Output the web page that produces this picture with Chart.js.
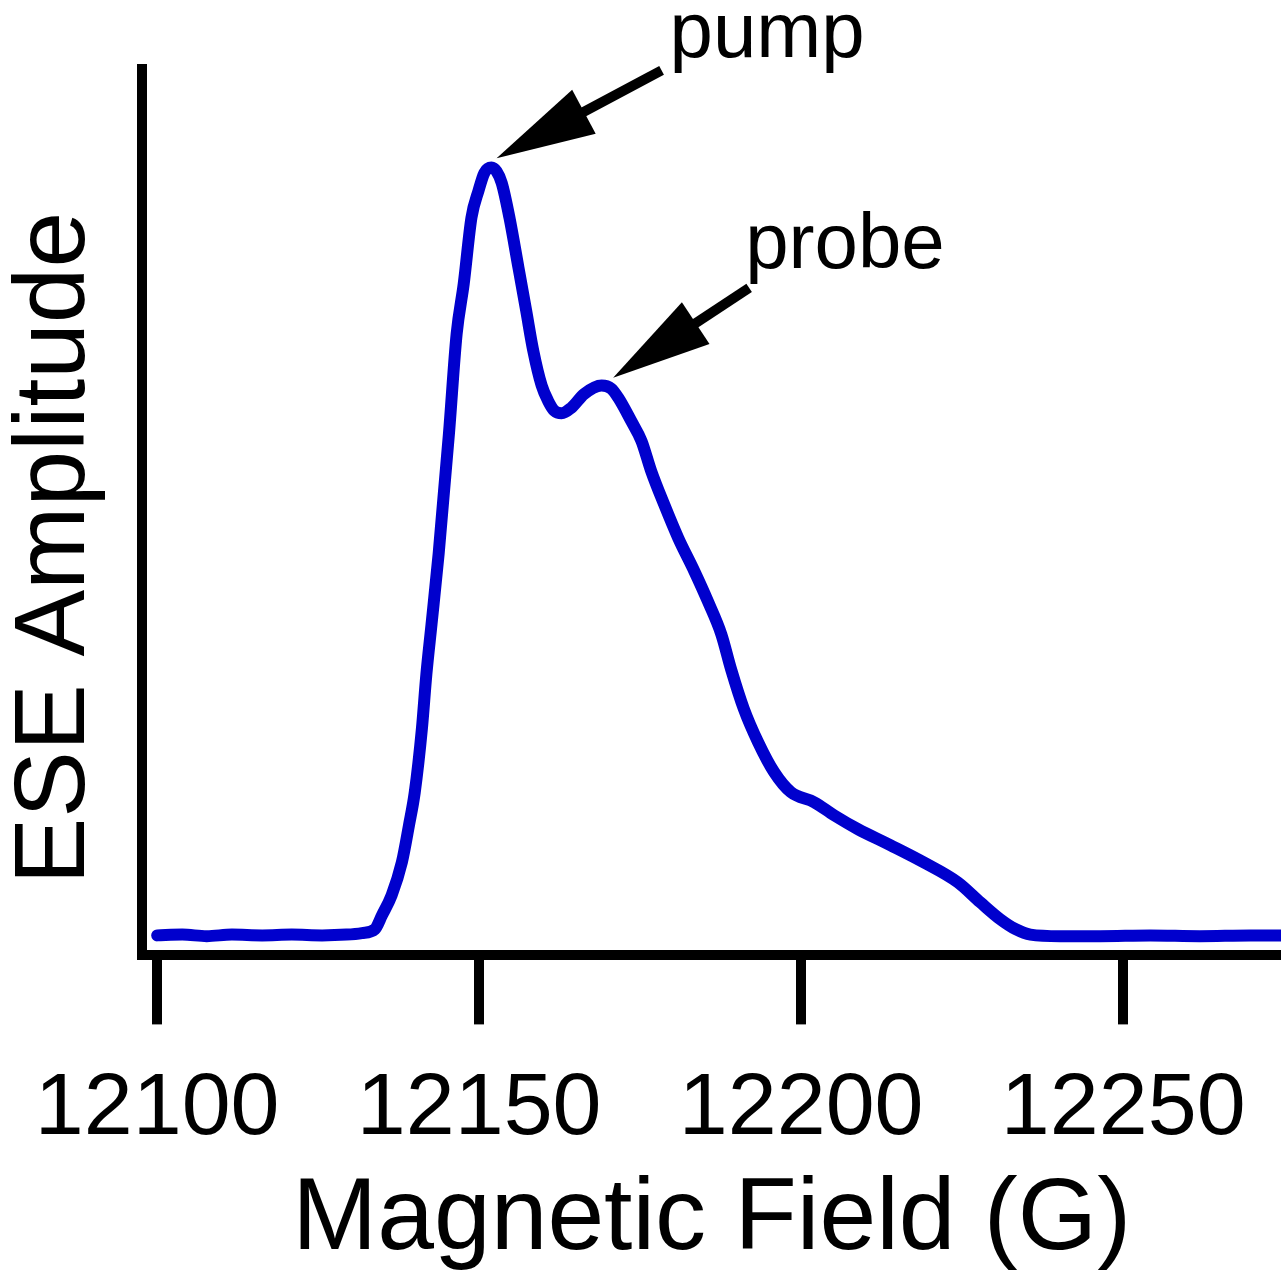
<!DOCTYPE html>
<html>
<head>
<meta charset="utf-8">
<script src="https://cdn.jsdelivr.net/npm/chart.js@4/dist/chart.umd.min.js"></script>
<style>
html, body { margin: 0; padding: 0; background: #fff; }
canvas { display: block; }
</style>
</head>
<body>
<canvas id="graph" width="1281" height="1278"></canvas>
<script>
// magnetic field (G) and ESE amplitude (arb. units, peak ~1)
var fieldValues = [
    12100.0, 12103.9, 12107.7, 12111.6, 12116.3, 12120.9, 12125.6, 12129.4, 12131.8, 12133.8,
    12134.9, 12136.4, 12138.0, 12139.1, 12140.0, 12141.1, 12141.8, 12142.6, 12143.7, 12145.3,
    12146.5, 12147.6, 12148.8, 12149.9, 12150.8, 12151.9, 12152.7, 12153.5, 12154.7, 12156.1,
    12157.3, 12158.4, 12159.7, 12160.7, 12161.7, 12162.8, 12164.3, 12166.3, 12169.0, 12170.5,
    12171.6, 12173.6, 12175.2, 12176.7, 12178.7, 12180.9, 12183.4, 12185.5, 12187.6, 12189.1,
    12191.1, 12193.3, 12195.8, 12198.4, 12202.0, 12205.1, 12208.8, 12213.9, 12219.0, 12224.3,
    12227.8, 12230.9, 12233.3, 12235.6, 12240.2, 12246.4, 12254.2, 12261.9, 12269.7, 12274.5
];
var amplitudeValues = [
    0.000, 0.001, -0.001, 0.001, 0.000, 0.001, 0.000, 0.001, 0.003, 0.008,
    0.026, 0.052, 0.095, 0.143, 0.186, 0.268, 0.339, 0.404, 0.495, 0.651,
    0.781, 0.846, 0.932, 0.967, 0.990, 0.997, 0.992, 0.977, 0.932, 0.867,
    0.811, 0.759, 0.714, 0.694, 0.681, 0.678, 0.685, 0.703, 0.714, 0.710,
    0.698, 0.668, 0.642, 0.603, 0.560, 0.516, 0.473, 0.434, 0.391, 0.346,
    0.294, 0.251, 0.212, 0.186, 0.173, 0.156, 0.138, 0.117, 0.095, 0.069,
    0.043, 0.021, 0.008, 0.001, -0.001, -0.001, 0.000, -0.001, 0.000, 0.000
];
var tickValues = [12100, 12150, 12200, 12250];
var noteLabels = ["pump", "probe"];
var noteField = [12152.7, 12170.8];
var noteAmp = [1.009, 0.724];

var fontFamily = "'Liberation Sans', Arial, Helvetica, sans-serif";

document.addEventListener("DOMContentLoaded", function() {
    var ctx = document.getElementById("graph").getContext("2d");

    var points = fieldValues.map(function(f, i) {
        return { x: f, y: amplitudeValues[i] };
    });

    // arrows + labels for pump/probe, and the rotated y title
    var notePlugin = {
        id: "notes",
        afterDraw: function(chart) {
            var c = chart.ctx;
            var xs = chart.scales.x, ys = chart.scales.y;
            var area = chart.chartArea;
            var tails = [[165, -88], [136, -90]];
            var textPos = [[173, -101], [132, -110]];

            c.save();
            c.fillStyle = "#000";
            c.strokeStyle = "#000";
            noteLabels.forEach(function(label, i) {
                var tx = xs.getPixelForValue(noteField[i]);
                var ty = ys.getPixelForValue(noteAmp[i]);
                var ex = tx + tails[i][0], ey = ty + tails[i][1];
                var len = Math.sqrt(Math.pow(ex - tx, 2) + Math.pow(ey - ty, 2));
                var ux = (ex - tx) / len, uy = (ey - ty) / len;
                var bx = tx + ux * 99, by = ty + uy * 99;

                c.lineWidth = 10;
                c.lineCap = "butt";
                c.beginPath();
                c.moveTo(bx - ux * 5, by - uy * 5);
                c.lineTo(ex, ey);
                c.stroke();

                c.beginPath();
                c.moveTo(tx, ty);
                c.lineTo(bx - uy * 25, by + ux * 25);
                c.lineTo(bx + uy * 25, by - ux * 25);
                c.closePath();
                c.fill();

                c.font = "78px " + fontFamily;
                c.textAlign = "left";
                c.textBaseline = "alphabetic";
                c.fillText(label, tx + textPos[i][0], ty + textPos[i][1]);
            });

            c.translate(area.left - 86, (area.top + area.bottom) / 2 + 36);
            c.rotate(-Math.PI / 2);
            c.font = "100px " + fontFamily;
            c.textAlign = "center";
            c.textBaseline = "middle";
            c.fillText("ESE Amplitude", 0, 0);
            c.restore();
        }
    };

    var lineChart = new Chart(ctx, {
        type: "line",
        data: {
            datasets: [{
                label: "ESE",
                data: points,
                borderColor: "#0000cd",
                borderWidth: 12,
                pointRadius: 0,
                fill: false,
                cubicInterpolationMode: "monotone",
                borderCapStyle: "round",
                borderJoinStyle: "round"
            }]
        },
        options: {
            responsive: false,
            animation: false,
            layout: {
                padding: { top: 69, left: 140, right: 0, bottom: 6 }
            },
            plugins: {
                legend: { display: false },
                tooltip: { enabled: false }
            },
            scales: {
                x: {
                    type: "linear",
                    min: 12097.7,
                    max: 12274.5,
                    afterBuildTicks: function(scale) {
                        scale.ticks = tickValues.map(function(v) { return { value: v }; });
                    },
                    grid: {
                        display: true,
                        drawOnChartArea: false,
                        drawTicks: true,
                        tickLength: 69,
                        tickWidth: 10,
                        tickColor: "#000",
                        color: "#000",
                        lineWidth: 10
                    },
                    border: { display: true, color: "#000", width: 10 },
                    ticks: {
                        color: "#000",
                        font: { family: fontFamily, size: 88 },
                        padding: 33,
                        maxRotation: 0,
                        autoSkip: false,
                        callback: function(v) { return String(v); }
                    },
                    title: {
                        display: true,
                        text: "Magnetic Field (G)",
                        color: "#000",
                        font: { family: fontFamily, size: 102, lineHeight: 1.0 },
                        padding: { top: -26, bottom: 0 }
                    }
                },
                y: {
                    min: -0.026,
                    max: 1.125,
                    ticks: { display: false },
                    grid: { display: false, drawTicks: false },
                    border: { display: true, color: "#000", width: 10 }
                }
            }
        },
        plugins: [notePlugin]
    });
});
</script>
</body>
</html>
